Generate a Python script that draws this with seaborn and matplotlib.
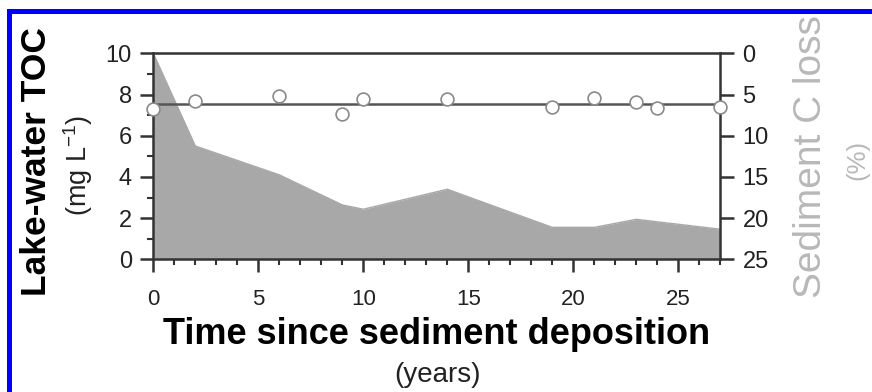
import matplotlib
matplotlib.use("Agg")
import matplotlib.pyplot as plt
from matplotlib.patches import Rectangle
from matplotlib.ticker import MultipleLocator
import seaborn as sns
import pandas as pd

# Lake-water total organic carbon (left axis, shaded area)
toc_years = [0, 2, 6, 9, 10, 14, 19, 21, 23, 27]
toc_mg_l = [10.0, 5.5, 4.1, 2.64, 2.43, 3.4, 1.55, 1.55, 1.94, 1.46]

# Sediment carbon loss (right axis, inverted, open circles)
loss_years = [0, 2, 6, 9, 10, 14, 19, 21, 23, 24, 27]
loss_pct = [6.8, 5.8, 5.2, 7.4, 5.5, 5.55, 6.55, 5.45, 5.95, 6.6, 6.55]
loss_mean = 6.2

x_ticks = [0, 5, 10, 15, 20, 25]
left_ticks = [0, 2, 4, 6, 8, 10]
right_ticks = [0, 5, 10, 15, 20, 25]

sns.set_theme(style="ticks")
plt.rcParams["font.family"] = ["Liberation Sans", "DejaVu Sans"]
plt.rcParams["mathtext.fontset"] = "custom"
plt.rcParams["mathtext.rm"] = "Liberation Sans"
plt.rcParams["mathtext.it"] = "Liberation Sans:italic"

toc_df = pd.DataFrame({"year": toc_years, "toc": toc_mg_l})
loss_df = pd.DataFrame({"year": loss_years, "loss": loss_pct})

W, H = 872, 392
fig = plt.figure(figsize=(W / 100, H / 100), dpi=100)
ax = fig.add_axes([153.3 / W, 1 - 259.3 / H, (720.3 - 153.3) / W, (259.3 - 53.3) / H])

spine_c = "#333333"
area_c = "#a8a8a8"

ax.fill_between(toc_df["year"], toc_df["toc"], 0, color=area_c, lw=0, zorder=1)
sns.lineplot(data=toc_df, x="year", y="toc", ax=ax, color=area_c, lw=1, zorder=1)

ax.set_xlim(0, 27)
ax.set_ylim(0, 10)
ax.set_xticks(x_ticks)
ax.set_yticks(left_ticks)
ax.xaxis.set_minor_locator(MultipleLocator(1))
ax.yaxis.set_minor_locator(MultipleLocator(1))
ax.set_xlabel("")
ax.set_ylabel("")
for side in ["left", "bottom", "top"]:
    ax.spines[side].set_visible(True)
    ax.spines[side].set_color(spine_c)
    ax.spines[side].set_linewidth(1.8)
ax.spines["right"].set_visible(False)
ax.tick_params(axis="both", which="major", direction="out", length=9.5, width=1.8,
               color=spine_c, labelcolor="#222222")
ax.tick_params(axis="both", which="minor", direction="out", length=4.5, width=1.5, color=spine_c)
ax.tick_params(axis="y", which="major", labelsize=17, pad=6)
ax.tick_params(axis="x", which="major", labelsize=16, pad=12)

ax2 = ax.twinx()
ax2.axhline(loss_mean, color="#555555", lw=1.8, zorder=2)
sns.scatterplot(data=loss_df, x="year", y="loss", ax=ax2, s=85, marker="o",
                facecolor="white", edgecolor="#8a8a8a", linewidth=1.2, zorder=5, clip_on=False)
ax2.set_ylim(25, 0)
ax2.set_yticks(right_ticks)
ax2.set_ylabel("")
ax2.set_xlabel("")
for side in ["left", "bottom", "top"]:
    ax2.spines[side].set_visible(False)
ax2.spines["right"].set_visible(True)
ax2.spines["right"].set_color(spine_c)
ax2.spines["right"].set_linewidth(1.8)
ax2.tick_params(axis="y", which="major", direction="out", length=10, width=1.8,
                color=spine_c, labelcolor="#222222", labelsize=17, pad=6)

# axis titles
fig.text(37 / W, 1 - 162 / H, "Lake-water TOC", rotation=90, ha="center", va="center",
         fontsize=25.5, fontweight="bold", color="black")
fig.text(78 / W, 1 - 165 / H, "(mg L$^{-1}$)", rotation=90, ha="center", va="center",
         fontsize=19.5, color="#222222")
fig.text(811 / W, 1 - 157 / H, "Sediment C loss", rotation=90, ha="center", va="center",
         fontsize=28, color="#b8b8b8")
fig.text(857 / W, 1 - 160 / H, "(%)", rotation=90, ha="center", va="center",
         fontsize=18.5, color="#b8b8b8")
fig.text(437 / W, 1 - 335 / H, "Time since sediment deposition", ha="center", va="center",
         fontsize=26, fontweight="bold", color="black")
fig.text(437 / W, 1 - 375 / H, "(years)", ha="center", va="center",
         fontsize=20, color="#222222")

# blue frame around the panel
fig.add_artist(Rectangle((9.3 / W, -0.1), 1.2, (1 - 11.5 / H) + 0.1, transform=fig.transFigure,
                         fill=False, edgecolor="#0000ff", lw=3.6, clip_on=False))

fig.savefig("out.png", dpi=100)
